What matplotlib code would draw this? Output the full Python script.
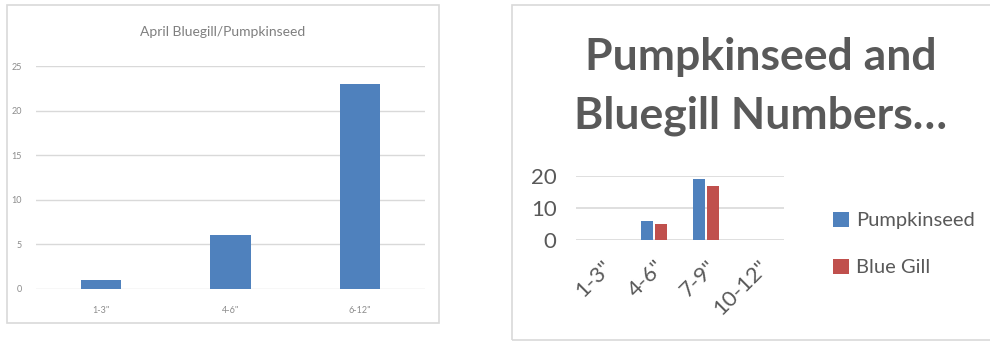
import matplotlib
matplotlib.use("Agg")
import matplotlib.pyplot as plt
from matplotlib.patches import Rectangle
import numpy as np

plt.rcParams['font.family'] = ['Lato', 'DejaVu Sans']

# April chart data
april_sizes = ['1-3"', '4-6"', '6-12"']
april_counts = [1, 6, 23]
april_ticks = [0, 5, 10, 15, 20, 25]

# Species comparison data
size_classes = ['1-3"', '4-6"', '7-9"', '10-12"']
pumpkinseed = [0, 6, 19, 0]
blue_gill = [0, 5, 17, 0]
species_ticks = [0, 10, 20]

BLUE = '#4f81bd'
RED = '#c0504d'
GRID = '#d9d9d9'
TEXT = '#595959'

W, H = 990, 341
fig = plt.figure(figsize=(W / 100, H / 100), dpi=100)


def px_rect(x0, y0, x1, y1):
    """Convert top-left pixel box to figure fraction [l, b, w, h]."""
    return [x0 / W, 1 - y1 / H, (x1 - x0) / W, (y1 - y0) / H]


# Chart frames
for box in [(7, 5, 439, 323), (512, 5, 1000, 340)]:
    l, b, w, h = px_rect(*box)
    fig.patches.append(Rectangle((l, b), w, h, transform=fig.transFigure,
                                 fill=False, edgecolor=GRID, linewidth=1.2))

# ---- Left: April Bluegill/Pumpkinseed ----
ax1 = fig.add_axes(px_rect(36, 66, 425, 289))
x1 = np.arange(len(april_sizes))
ax1.bar(x1, april_counts, width=0.31, color=BLUE, zorder=3)
ax1.set_xlim(-0.5, len(april_sizes) - 0.5)
ax1.set_ylim(0, 25)
ax1.set_yticks(april_ticks)
ax1.set_xticks(x1)
ax1.set_xticklabels(april_sizes)
for s in ax1.spines.values():
    s.set_visible(False)
ax1.grid(axis='y', color=GRID, linewidth=1, zorder=0)
ax1.tick_params(axis='both', length=0, labelsize=6.5, labelcolor='#8c8c8c')
ax1.tick_params(axis='y', pad=10)
ax1.tick_params(axis='x', pad=12)
fig.text(223 / W, 1 - 32 / H, 'April Bluegill/Pumpkinseed', ha='center', va='center',
         fontsize=10, color='#7f7f7f')

# ---- Right: Pumpkinseed and Bluegill Numbers ----
ax2 = fig.add_axes(px_rect(576, 176, 784, 240))
x2 = np.arange(len(size_classes))
ax2.bar(x2 - 0.14, pumpkinseed, width=0.23, color=BLUE, zorder=3, label='Pumpkinseed')
ax2.bar(x2 + 0.14, blue_gill, width=0.23, color=RED, zorder=3, label='Blue Gill')
ax2.set_xlim(-0.5, len(size_classes) - 0.5)
ax2.set_ylim(0, 20)
ax2.set_yticks(species_ticks)
ax2.set_xticks(x2)
ax2.set_xticklabels(size_classes, rotation=45, ha='right', rotation_mode='anchor')
for s in ax2.spines.values():
    s.set_visible(False)
ax2.grid(axis='y', color=GRID, linewidth=1.2, zorder=0)
ax2.tick_params(axis='both', length=0, labelsize=16, labelcolor=TEXT)
ax2.tick_params(axis='y', pad=14)
ax2.tick_params(axis='x', pad=12)

fig.text(761 / W, 1 - 70 / H, 'Pumpkinseed and', ha='center', va='baseline',
         fontsize=32, fontweight='bold', color=TEXT)
fig.text(761 / W, 1 - 129 / H, 'Bluegill Numbers…', ha='center', va='baseline',
         fontsize=32, fontweight='bold', color=TEXT)

handles, labels = ax2.get_legend_handles_labels()
fig.legend(handles, labels, loc='center left', bbox_to_anchor=(815 / W, 1 - 244 / H),
           frameon=False, fontsize=14.5, labelcolor=TEXT, handlelength=0.8,
           handleheight=0.8, handletextpad=0.35, labelspacing=1.45)

fig.savefig('out.png', dpi=100)
